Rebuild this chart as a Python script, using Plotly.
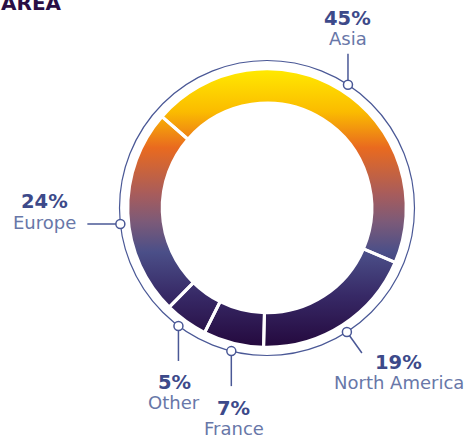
import math
import plotly.graph_objects as go

# data
regions = ["Asia", "North America", "France", "Other", "Europe"]
shares = [45, 19, 7, 5, 24]
pct_labels = ["45%", "19%", "7%", "5%", "24%"]
title_text = "AREA"

W, H = 471, 440
CX, CY = 267, 208          # donut centre (px)
R_OUT, R_IN = 139.2, 104.8  # ring incl. white border
R_GUIDE = 147.5             # thin outer circle
ROTATION = -49

PCT_COLOR = "#3d4a8a"
NAME_COLOR = "#6877a8"
LINE_COLOR = "#4a5896"
FONT = "DejaVu Sans, Open Sans, sans-serif"

# per-label leader styling: angle tweak, leader end offset, label offsets
leader_style = {
    "Asia":          dict(dang=1.3,  end=(0, -31),  pct=(0, -66), name=(0, -46)),
    "North America": dict(dang=0,    end=(15, 21),  pct=(52, 31), name=(52, 51)),
    "France":        dict(dang=0,    end=(0, 35),   pct=(2, 57),  name=(3, 77)),
    "Other":         dict(dang=1.3,  end=(0, 35),   pct=(-4, 57), name=(-4, 77)),
    "Europe":        dict(dang=-4,   end=(-33, 0),  pct=(-76, -22), name=(-76, -1)),
}

gradient = [
    [0.0, "#ffe800"], [0.15, "#fbbb00"], [0.28, "#e96a1f"], [0.45, "#a75c5c"],
    [0.55, "#7c5a78"], [0.66, "#4b4f88"], [0.82, "#372966"], [1.0, "#250a3f"],
]


def polar(r, deg):
    a = math.radians(deg)
    return CX + r * math.sin(a), CY - r * math.cos(a)


fig = go.Figure()

# gradient ring underlay
n = 240
outer = [polar(R_OUT, 360 * i / n) for i in range(n + 1)]
inner = [polar(R_IN, 360 * i / n) for i in range(n, -1, -1)]
ring = outer + inner
fig.add_trace(go.Scatter(
    x=[p[0] for p in ring], y=[p[1] for p in ring],
    mode="lines", fill="toself", line=dict(width=0),
    fillgradient=dict(type="vertical", colorscale=gradient,
                      start=CY - R_OUT + 2, stop=CY + R_OUT - 2),
    hoverinfo="skip", showlegend=False,
))

# leader lines, anchors and labels
total = sum(shares)
cum = 0
for name, val, pct in zip(regions, shares, pct_labels):
    st = leader_style[name]
    mid = ROTATION + (cum + val / 2) / total * 360 + st["dang"]
    cum += val
    ax, ay = polar(R_GUIDE, mid)
    ex, ey = ax + st["end"][0], ay + st["end"][1]
    fig.add_trace(go.Scatter(
        x=[ax, ex], y=[ay, ey], mode="lines",
        line=dict(color=LINE_COLOR, width=1.5),
        hoverinfo="skip", showlegend=False,
    ))
    fig.add_trace(go.Scatter(
        x=[ax], y=[ay], mode="markers",
        marker=dict(size=9, color="white", line=dict(color=LINE_COLOR, width=1.5)),
        hoverinfo="skip", showlegend=False,
    ))
    fig.add_annotation(x=ax + st["pct"][0], y=ay + st["pct"][1], text=f"<b>{pct}</b>",
                       showarrow=False, xanchor="center", yanchor="middle",
                       font=dict(family=FONT, size=19.5, color=PCT_COLOR))
    fig.add_annotation(x=ax + st["name"][0], y=ay + st["name"][1], text=name,
                       showarrow=False, xanchor="center", yanchor="middle",
                       font=dict(family=FONT, size=18, color=NAME_COLOR))

# the slices themselves (transparent, white separators)
fig.add_trace(go.Pie(
    labels=regions, values=shares, sort=False, direction="clockwise",
    rotation=ROTATION, hole=R_IN / R_OUT, textinfo="none", hoverinfo="label+percent",
    marker=dict(colors=["rgba(0,0,0,0)"] * len(regions), line=dict(color="white", width=3)),
    domain=dict(x=[(CX - R_OUT) / W, (CX + R_OUT) / W],
                y=[(H - CY - R_OUT) / H, (H - CY + R_OUT) / H]),
    showlegend=False,
))

fig.add_shape(type="circle", xref="x", yref="y", layer="below",
              x0=CX - R_GUIDE, x1=CX + R_GUIDE, y0=CY - R_GUIDE, y1=CY + R_GUIDE,
              line=dict(color=LINE_COLOR, width=1.2))

# title sits partly above the visible area, as in the source crop
fig.add_annotation(xref="paper", yref="paper", x=0, y=1, xshift=-1, yshift=-3,
                   text=f"<b>{title_text}</b>", showarrow=False,
                   xanchor="left", yanchor="middle",
                   font=dict(family=FONT, size=20, color="#2a0f45"))

fig.update_layout(
    width=W, height=H,
    margin=dict(l=0, r=0, t=0, b=0),
    paper_bgcolor="white", plot_bgcolor="white",
    xaxis=dict(range=[0, W], visible=False, fixedrange=True),
    yaxis=dict(range=[H, 0], visible=False, fixedrange=True),
)

fig.write_html("out.html", config={"displayModeBar": False},
               post_script="document.body.style.margin='0';")
